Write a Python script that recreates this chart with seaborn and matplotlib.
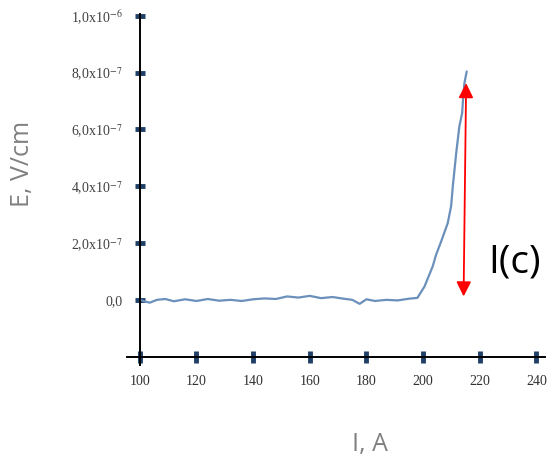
import matplotlib
matplotlib.use("Agg")
import matplotlib.pyplot as plt
import seaborn as sns
import pandas as pd

# current I (A) and electric field E (V/cm)
current = [100, 101.5, 103.5, 106, 109, 112, 116, 120, 124, 128, 132, 136,
           140, 144, 148, 152, 156, 160, 164, 168, 172, 175, 177.6, 180,
           183, 187, 191, 195, 198, 200.5, 203.4, 204.6, 206.4, 208.7,
           209.9, 210.5, 211.7, 212.8, 213.8, 214.2, 214.6, 215.4]
field = [0.0, -0.05e-7, -0.1e-7, 0.0, 0.03e-7, -0.05e-7, 0.02e-7, -0.04e-7,
         0.03e-7, -0.03e-7, 0.0, -0.04e-7, 0.02e-7, 0.05e-7, 0.03e-7,
         0.12e-7, 0.08e-7, 0.14e-7, 0.06e-7, 0.1e-7, 0.04e-7, 0.0,
         -0.14e-7, 0.02e-7, -0.04e-7, 0.0, -0.02e-7, 0.04e-7, 0.07e-7,
         0.47e-7, 1.18e-7, 1.59e-7, 2.06e-7, 2.7e-7, 3.3e-7, 4.0e-7,
         5.17e-7, 6.1e-7, 6.58e-7, 7.2e-7, 7.63e-7, 8.04e-7]

x_ticks = [100, 120, 140, 160, 180, 200, 220, 240]
y_ticks = [0.0, 2e-7, 4e-7, 6e-7, 8e-7, 1e-6]
y_tick_labels = ["0,0", "2,0x10$^{-7}$", "4,0x10$^{-7}$", "6,0x10$^{-7}$",
                 "8,0x10$^{-7}$", "1,0x10$^{-6}$"]

# critical-current arrow
arrow_top = (215.2, 7.63e-7)
arrow_bottom = (214.3, 0.12e-7)

df = pd.DataFrame({"I": current, "E": field})

sns.set_style("white")
plt.rcParams["mathtext.fontset"] = "stix"

fig = plt.figure(figsize=(5.49, 4.59), dpi=100)
ax = fig.add_axes([0.231, 0.205, 0.762, 0.765])

sns.lineplot(data=df, x="I", y="E", color="#6a90bb", linewidth=1.6, ax=ax)

ax.set_xlim(95.4, 243.1)
ax.set_ylim(-2.29e-7, 1.007e-6)

for side in ["top", "right"]:
    ax.spines[side].set_visible(False)
ax.spines["left"].set_position(("data", 100))
ax.spines["bottom"].set_position(("data", -2e-7))
for side in ["left", "bottom"]:
    ax.spines[side].set_linewidth(1.4)
    ax.spines[side].set_color("black")

ax.set_xticks(x_ticks)
ax.set_xticklabels([str(t) for t in x_ticks])
ax.set_yticks(y_ticks)
ax.set_yticklabels(y_tick_labels)

ax.tick_params(bottom=True, left=True)
ax.tick_params(axis="y", direction="inout", length=7, width=3.5,
               color="#1f3f66", pad=9, labelsize=10, labelcolor="#404040")
ax.tick_params(axis="x", direction="inout", length=8, width=3.5,
               color="#1f3f66", pad=9, labelsize=10, labelcolor="#303030")
for lab in ax.get_xticklabels() + ax.get_yticklabels():
    lab.set_family(["Liberation Serif", "DejaVu Serif"])

ax.set_xlabel("")
ax.set_ylabel("")
fig.text(370 / 549, 1 - 444 / 459, "I, A", fontsize=18, color="#808080",
         family="Open Sans", ha="center", va="center")
fig.text(23 / 549, 1 - 164 / 459, "E, V/cm", fontsize=18, color="#808080",
         family="Open Sans", ha="center", va="center", rotation=90)

ax.annotate("", xy=arrow_top, xytext=arrow_bottom,
            arrowprops=dict(arrowstyle="<|-|>", color="red", lw=1.3,
                            mutation_scale=22, shrinkA=0, shrinkB=0))
ax.text(223.0, 1.3e-7, "I(c)", fontsize=28, color="black",
        family="Open Sans", va="center", ha="left")

fig.savefig("out.png", dpi=100)
